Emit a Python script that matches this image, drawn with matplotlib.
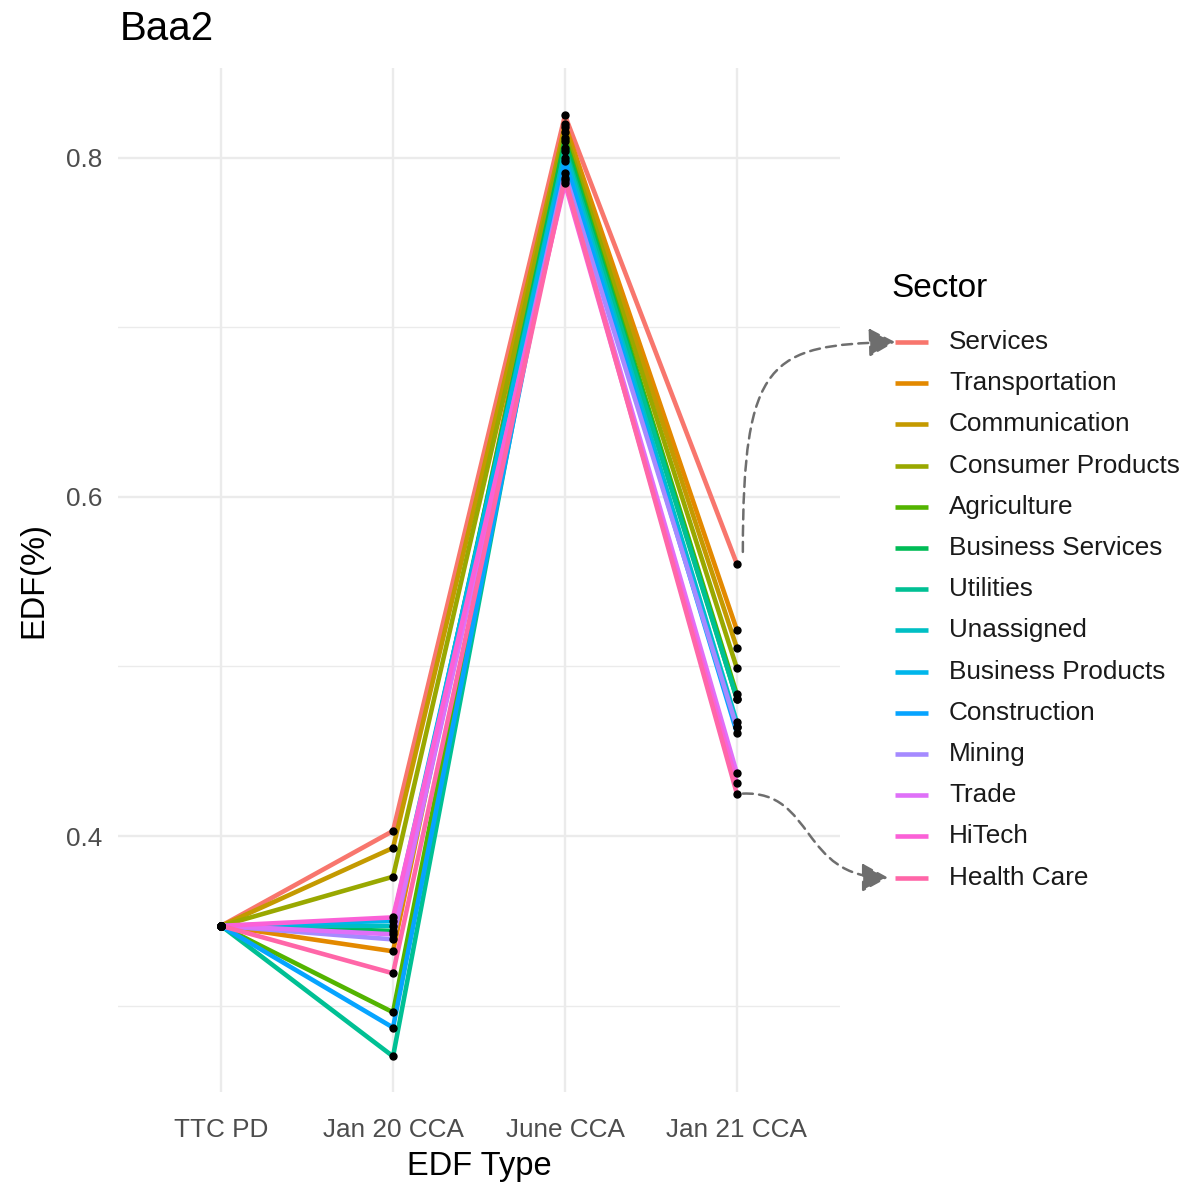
import matplotlib
matplotlib.use("Agg")
import matplotlib.pyplot as plt
from matplotlib.lines import Line2D
from matplotlib.patches import FancyArrowPatch
from matplotlib.path import Path

plt.rcParams['font.family'] = ['Liberation Sans', 'DejaVu Sans']

# ---------------- data ----------------
edf_types = ["TTC PD", "Jan 20 CCA", "June CCA", "Jan 21 CCA"]
sectors = ["Services", "Transportation", "Communication", "Consumer Products",
           "Agriculture", "Business Services", "Utilities", "Unassigned",
           "Business Products", "Construction", "Mining", "Trade", "HiTech",
           "Health Care"]
ttc_pd = [0.347] * 14
jan20 = [0.403, 0.332, 0.393, 0.376, 0.296, 0.344, 0.270, 0.347, 0.350,
         0.287, 0.339, 0.342, 0.352, 0.319]
june = [0.825, 0.820, 0.818, 0.815, 0.812, 0.810, 0.806, 0.804, 0.800,
        0.798, 0.791, 0.787, 0.785, 0.788]
jan21 = [0.5605, 0.5215, 0.511, 0.499, 0.4835, 0.481, 0.481, 0.467, 0.464,
         0.461, 0.464, 0.437, 0.431, 0.425]
colors = ["#F8766D", "#E38900", "#C49A00", "#99A800", "#53B400", "#00BC56",
          "#00C094", "#00BFC4", "#00B6EB", "#06A4FF", "#A58AFF", "#DF70F8",
          "#FB61D7", "#FF66A8"]
y_ticks = [0.4, 0.6, 0.8]
y_minor = [0.3, 0.5, 0.7]

W, H = 1196, 1182
fig = plt.figure(figsize=(W / 100, H / 100), dpi=100)
ax = fig.add_axes([118 / W, 1 - 1092 / H, 722 / W, 1024 / H])

xs = list(range(len(edf_types)))
for i, s in enumerate(sectors):
    ys = [ttc_pd[i], jan20[i], june[i], jan21[i]]
    ax.plot(xs, ys, color=colors[i], lw=3.3, solid_capstyle='butt', zorder=3)
for i, s in enumerate(sectors):
    ys = [ttc_pd[i], jan20[i], june[i], jan21[i]]
    ax.plot(xs, ys, 'o', color='black', ms=5, zorder=4, lw=0)

ax.set_xlim(-0.6, 3.6)
ax.set_ylim(0.249, 0.853)
ax.set_xticks(xs)
ax.set_xticklabels(edf_types)
ax.set_yticks(y_ticks)
ax.set_yticklabels([f"{v:.1f}" for v in y_ticks])
ax.set_yticks(y_minor, minor=True)
ax.grid(True, which='major', color='#EBEBEB', lw=1.7, zorder=0)
ax.grid(True, which='minor', axis='y', color='#EBEBEB', lw=1.0, zorder=0)
for sp in ax.spines.values():
    sp.set_visible(False)
ax.tick_params(which='both', length=0, labelsize=18.8, labelcolor='#4D4D4D')
ax.tick_params(axis='x', pad=19)
ax.tick_params(axis='y', pad=11)
ax.set_axisbelow(True)

ax.set_xlabel("EDF Type", fontsize=23.5, color='black', labelpad=6)
ax.set_ylabel("EDF(%)", fontsize=23.5, color='black', labelpad=12)
fig.text(120 / W, 1 - 29 / H, "Baa2", fontsize=29, ha='left', va='center')

# ---------------- legend (manual) ----------------
fig.text(891 / W, 1 - 289 / H, "Sector", fontsize=24, ha='left', va='center')
leg_y0, leg_dy = 342, 41.2
for i, s in enumerate(sectors):
    yy = 1 - (leg_y0 + i * leg_dy) / H
    fig.add_artist(Line2D([895 / W, 928 / W], [yy, yy], color=colors[i], lw=3.3,
                          transform=fig.transFigure, solid_capstyle='butt'))
    fig.text(949 / W, yy, s, fontsize=18.8, ha='left', va='center', color='#1A1A1A')

# ---------------- curved dashed arrows ----------------
fig.canvas.draw()


def px(x, y):
    return (x / W, 1 - y / H)


def data_px(x, y):
    dx, dy = ax.transData.transform((x, y))
    return dx, H - dy


# arrow 1: Services Jan 21 point -> Services legend entry
sx, sy = data_px(3, jan21[0])
p0 = px(sx + 6, sy - 12)
p1 = px(sx + 6, 360)
p2 = px(sx + 33, leg_y0 + 3)
p3 = px(895, leg_y0)
path1 = Path([p0, p1, p2, p3], [Path.MOVETO, Path.CURVE4, Path.CURVE4, Path.CURVE4])
a1 = FancyArrowPatch(path=path1, arrowstyle='-|>,head_length=10,head_width=5.5',
                     color='#6E6E6E', lw=1.8, linestyle=(0, (4, 2.5)),
                     transform=fig.transFigure, mutation_scale=1.6)
fig.add_artist(a1)

# arrow 2: Health Care Jan 21 point -> Health Care legend entry
hx, hy = data_px(3, jan21[-1])
ly = leg_y0 + 13 * leg_dy
q0 = px(hx + 6, hy)
q1 = px(815, hy - 3)
q2 = px(800, ly)
q3 = px(888, ly)
path2 = Path([q0, q1, q2, q3], [Path.MOVETO, Path.CURVE4, Path.CURVE4, Path.CURVE4])
a2 = FancyArrowPatch(path=path2, arrowstyle='-|>,head_length=10,head_width=5.5',
                     color='#6E6E6E', lw=1.8, linestyle=(0, (4, 2.5)),
                     transform=fig.transFigure, mutation_scale=1.6)
fig.add_artist(a2)

fig.savefig("out.png", dpi=100, facecolor='white')
